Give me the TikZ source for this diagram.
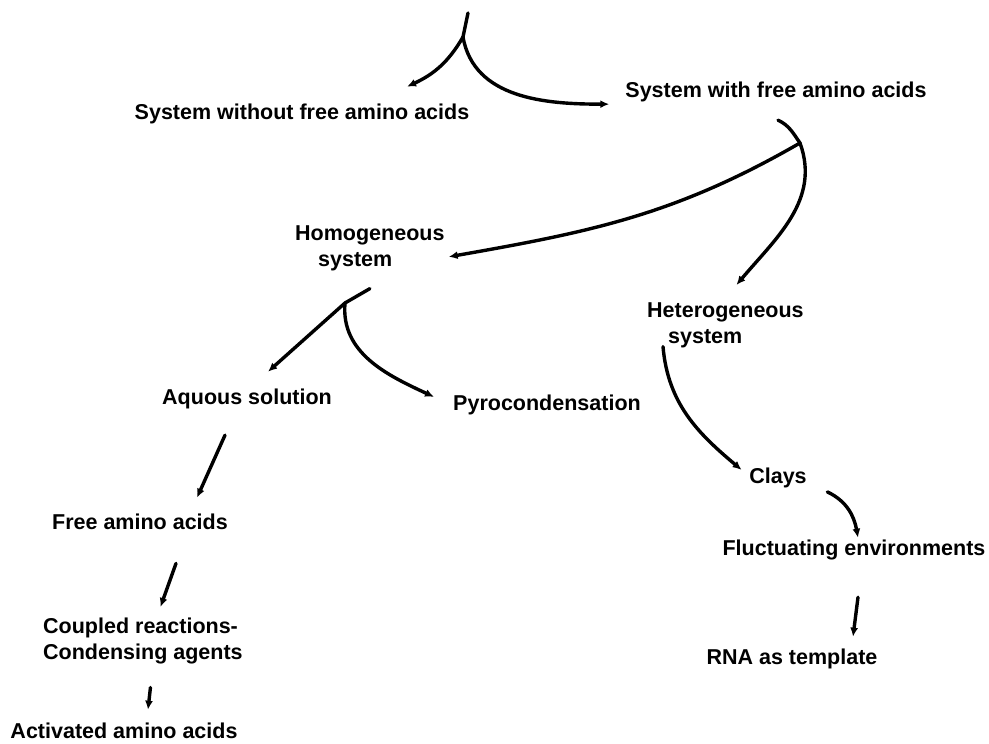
\documentclass[tikz,border=0pt]{standalone}
\usepackage{fontspec}
\setmainfont{Liberation Sans}
\usetikzlibrary{arrows.meta}

\begin{document}
\begin{tikzpicture}[x=1pt,y=1pt,
  lbl/.style={font=\bfseries\fontsize{21.5}{26}\selectfont, inner sep=0pt},
  stem/.style={line width=3.4pt, line cap=round},
  arr/.style={stem, -{Latex[length=9pt,width=8pt]}}]
\useasboundingbox (0,0) rectangle (989,744);
% labels
\node[lbl, anchor=base] (sysno) at (302,624) {System without free amino acids};
\node[lbl, anchor=base] (sysfree) at (776,646) {System with free amino acids};
\node[lbl, anchor=north west, align=left] (homo) at (295,518.5) {Homogeneous\\\hspace*{23pt}system};
\node[lbl, anchor=north west, align=left] (hetero) at (647,441.5) {Heterogeneous\\\hspace*{21pt}system};
\node[lbl, anchor=base] (aquous) at (247,339) {Aquous solution};
\node[lbl, anchor=base] (pyro) at (547,333) {Pyrocondensation};
\node[lbl, anchor=base] (free) at (140,214) {Free amino acids};
\node[lbl, anchor=base] (clays) at (778,260) {Clays};
\node[lbl, anchor=base] (fluct) at (854,188) {Fluctuating environments};
\node[lbl, anchor=north west, align=left] (coupled) at (43,126.5) {Coupled reactions-\\Condensing agents};
\node[lbl, anchor=base] (rna) at (792,79) {RNA as template};
\node[lbl, anchor=base] (activ) at (124,5) {Activated amino acids};
% forks
\coordinate (rootA) at (468,731);
\coordinate (forkA) at (463,707);
\coordinate (forkB) at (800,601);
\coordinate (forkC) at (345,441);
\draw[stem] (rootA) -- (forkA);
\draw[arr] (forkA) to[out=240,in=25] ([shift={(105,17.5)}]sysno.north);
\draw[arr] (forkA) to[out=-80,in=180] ([shift={(-16,-1.5)}]sysfree.south west);
\draw[stem] ([shift={(2,-17.5)}]sysfree.south) to[out=-25,in=125] (forkB);
\draw[arr] (forkB) to[out=210,in=10] ([shift={(4,-8.5)}]homo.east);
\draw[arr] (forkB) to[out=-70,in=50] ([shift={(11,17.5)}]hetero.north);
\draw[stem] ([shift={(0,-17.5)}]homo.south) -- (forkC);
\draw[arr] (forkC) -- ([shift={(21,17.5)}]aquous.north);
\draw[arr] (forkC) to[out=-95,in=155] ([shift={(-19,8.5)}]pyro.west);
% left column
\draw[arr] ([shift={(-22,-25.5)}]aquous.south) -- ([shift={(57,16.5)}]free.north);
\draw[arr] ([shift={(36,-33)}]free.south) -- ([shift={(17.5,10.5)}]coupled.north);
\draw[arr] ([shift={(7.5,-23.5)}]coupled.south) -- ([shift={(24,13.5)}]activ.north);
% right column
\draw[arr] ([shift={(16,1.5)}]hetero.south west) to[out=-85,in=140] ([shift={(-7.5,8.5)}]clays.west);
\draw[arr] ([shift={(20.5,-13.5)}]clays.east) to[out=-25,in=100] ([shift={(4,2.5)}]fluct.north);
\draw[arr] ([shift={(4,-36.5)}]fluct.south) -- ([shift={(61,12.5)}]rna.north);
\end{tikzpicture}
\end{document}
